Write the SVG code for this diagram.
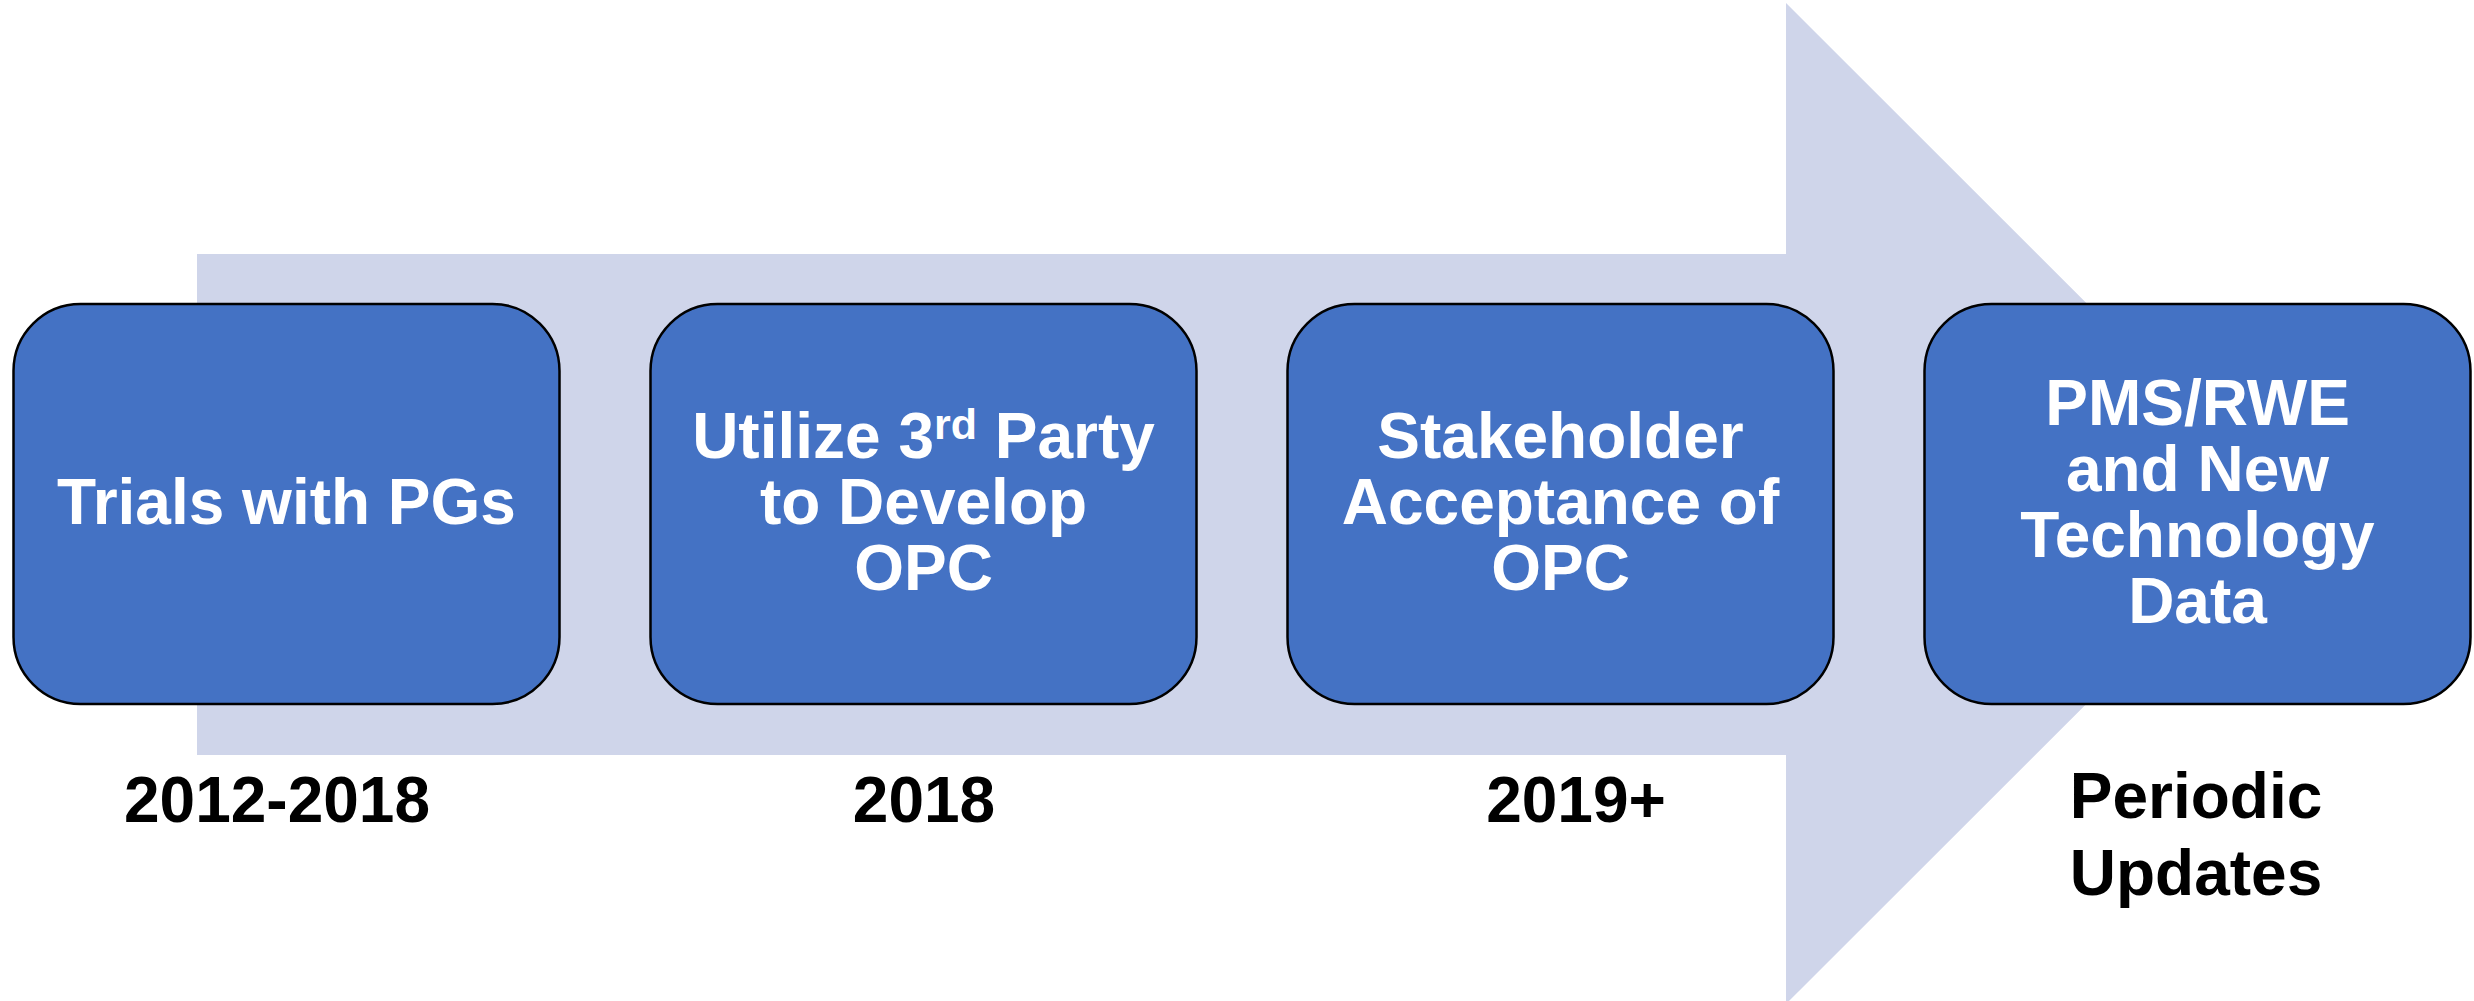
<svg xmlns="http://www.w3.org/2000/svg" width="2474" height="1001" viewBox="0 0 2474 1001">
  <style>
    .step { fill: #4472C4; stroke: #000000; stroke-width: 2.5; }
    .label { font-family: "Liberation Sans", Arial, sans-serif; font-weight: bold; font-size: 64px; text-anchor: middle; }
    .in { fill: #FFFFFF; }
    .out { fill: #000000; }
    .sup { font-size: 43px; }
  </style>

  <!-- Background timeline arrow -->
  <g id="connectors">
    <path id="timeline-arrow" d="M197,254 H1786 V3 L2287,503.5 L1786,1004 V755 H197 Z" fill="#CFD5EA"/>
  </g>

  <!-- Step 1 -->
  <g id="node-trials">
    <rect class="step" x="13.5" y="304" width="546" height="400" rx="67" ry="67"/>
    <text class="label in" x="286.5" y="524">Trials with PGs</text>
  </g>

  <!-- Step 2 -->
  <g id="node-third-party">
    <rect class="step" x="650.5" y="304" width="546" height="400" rx="67" ry="67"/>
    <text class="label in" x="923.5" y="458">Utilize 3<tspan class="sup" dy="-19">rd</tspan><tspan dy="19"> Party</tspan></text>
    <text class="label in" x="923.5" y="524">to Develop</text>
    <text class="label in" x="923.5" y="590">OPC</text>
  </g>

  <!-- Step 3 -->
  <g id="node-acceptance">
    <rect class="step" x="1287.5" y="304" width="546" height="400" rx="67" ry="67"/>
    <text class="label in" x="1560.5" y="458">Stakeholder</text>
    <text class="label in" x="1560.5" y="524">Acceptance of</text>
    <text class="label in" x="1560.5" y="590">OPC</text>
  </g>

  <!-- Step 4 -->
  <g id="node-pms-rwe">
    <rect class="step" x="1924.5" y="304" width="546" height="400" rx="67" ry="67"/>
    <text class="label in" x="2197.5" y="425">PMS/RWE</text>
    <text class="label in" x="2197.5" y="491">and New</text>
    <text class="label in" x="2197.5" y="557">Technology</text>
    <text class="label in" x="2197.5" y="623">Data</text>
  </g>

  <!-- Timeline labels -->
  <g id="timeline-labels">
    <text class="label out" x="277" y="822">2012-2018</text>
    <text class="label out" x="924" y="822">2018</text>
    <text class="label out" x="1576" y="822">2019+</text>
    <text class="label out" x="2196" y="818">Periodic</text>
    <text class="label out" x="2196" y="895">Updates</text>
  </g>
</svg>
